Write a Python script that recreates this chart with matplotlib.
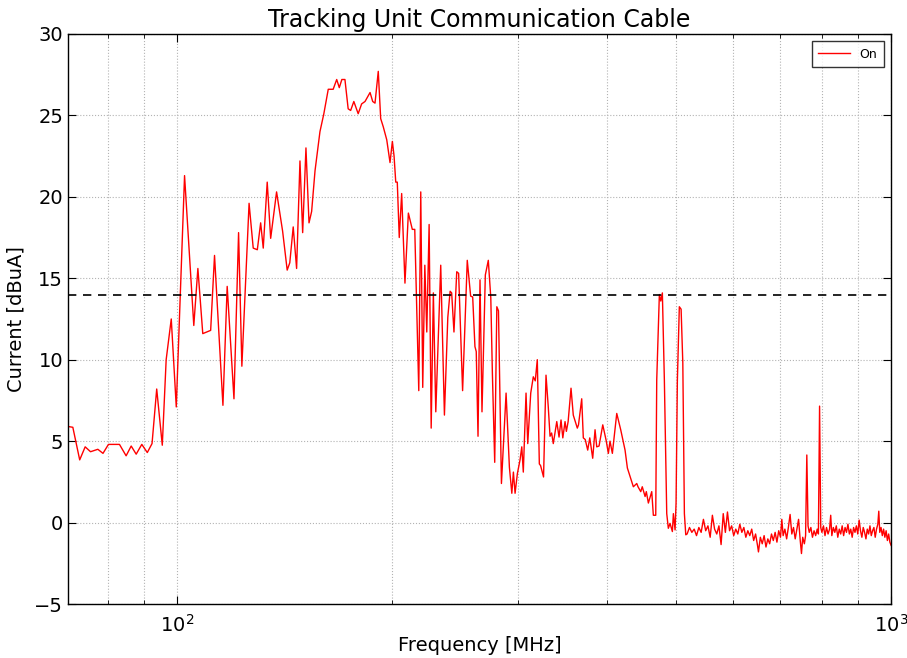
import matplotlib
matplotlib.use("Agg")
import matplotlib.pyplot as plt
from matplotlib.ticker import LogLocator, NullFormatter, MultipleLocator

# ---- data (frequency in MHz, current in dBuA) ----
freq_low = [70.4, 71.5, 73.1, 74.4, 75.7, 77.5, 78.8, 80.2, 83.1, 84.9, 86.3, 87.7,
            89.3, 90.9, 92.3, 93.7, 95.4, 96.6, 98.2, 99.8, 102.5, 105.6, 107.0,
            108.7, 111.5, 112.9, 116.0, 117.6, 120.2, 122.0, 123.3]
current_low = [5.9, 5.85, 3.85, 4.65, 4.35, 4.5, 4.25, 4.8, 4.8, 4.1, 4.7, 4.2,
               4.8, 4.3, 4.85, 8.2, 4.75, 10.0, 12.5, 7.1, 21.3, 12.1, 15.6,
               11.6, 11.8, 16.4, 7.2, 14.5, 7.6, 17.8, 9.6]

freq_mid = [126.2, 127.9, 129.6, 131.0, 132.1, 133.8, 135.3, 137.9, 140.6, 142.7,
            143.9, 145.5, 147.1, 148.7, 150.0, 151.6, 153.1, 154.4, 156.1, 158.6,
            160.6, 162.9, 165.5, 167.4, 168.8, 170.2, 171.9, 173.7, 175.1, 176.9,
            179.4, 181.4, 183.4, 186.4, 188.0, 189.4, 191.4, 192.9, 194.5, 196.7,
            198.8, 200.3, 201.4, 202.5, 203.5, 204.8, 206.4, 208.6, 210.9, 213.6,
            215.3, 218.1, 219.5, 220.9, 222.4, 223.8, 225.5, 227.0, 228.6, 230.4,
            234.1, 236.9, 239.5, 241.3, 242.5, 244.3, 246.5, 248.0, 251.2, 255.0,
            257.8, 259.5, 261.4, 262.5, 264.0, 265.7, 267.4, 270.3, 272.9, 275.1,
            276.5, 278.6, 280.5, 282.0, 284.7, 289.0, 292.1, 294.4, 295.9, 297.5,
            299.7, 302.3, 304.0, 305.5, 308.2, 309.9, 312.9, 315.5, 317.5, 319.6,
            321.7, 323.0, 326.1, 328.7, 331.1, 333.0, 334.7, 336.5, 340.3, 342.8,
            345.0, 347.0, 349.5, 351.0, 353.0, 356.3, 358.9, 363.6, 365.0, 368.8,
            370.7, 373.0, 376.0, 378.5, 382.1, 385.0, 387.1, 390.0, 394.7, 399.0,
            401.9, 404.0, 407.1, 412.9, 418.2, 424.1, 427.3, 432.0, 435.6, 440.4,
            442.2, 446.1, 448.3, 452.4, 454.2, 457.2, 462.2, 464.6, 468.2]
current_mid = [19.6, 16.85, 16.75, 18.4, 16.85, 20.9, 17.45, 20.3, 17.9, 15.5,
               15.95, 18.15, 15.6, 22.2, 17.8, 23.0, 18.4, 19.1, 21.6, 24.0,
               25.1, 26.6, 26.6, 27.2, 26.7, 27.2, 27.2, 25.4, 25.3, 25.85,
               25.1, 25.7, 25.85, 26.4, 25.85, 25.75, 27.7, 24.8, 24.3, 23.5,
               22.1, 23.4, 22.5, 20.9, 20.9, 17.5, 20.2, 14.7, 19.0, 18.0,
               18.0, 8.1, 20.3, 8.3, 15.8, 11.7, 18.3, 5.8, 14.1, 6.8,
               15.8, 6.6, 12.6, 14.2, 14.1, 11.7, 15.4, 15.3, 8.1, 16.1,
               13.9, 13.85, 10.8, 10.5, 5.3, 14.9, 6.8, 15.2, 16.1, 13.8,
               9.2, 3.7, 13.25, 13.0, 2.4, 7.95, 3.4, 1.8, 3.1, 1.8,
               3.0, 3.85, 4.65, 3.1, 7.95, 4.85, 7.95, 8.95, 8.7, 10.0,
               3.6, 3.5, 2.8, 9.05, 7.1, 5.3, 5.5, 4.85, 6.2, 5.25,
               6.3, 5.2, 6.2, 5.6, 6.2, 8.25, 6.6, 5.8, 6.0, 7.6,
               5.2, 5.1, 4.45, 5.2, 3.95, 5.7, 4.65, 4.7, 6.0, 5.05,
               4.25, 5.0, 4.25, 6.7, 5.7, 4.45, 3.35, 2.7, 2.2, 2.4,
               2.2, 1.9, 2.2, 1.6, 1.9, 1.2, 1.9, 0.45, 0.45]

freq_peaks = [469.7, 473.7, 475.9, 478.3, 481.4, 485.1, 487.6, 490.3, 494.0, 495.6,
              498.3, 499.9, 502.0, 505.2, 508.1, 510.9, 513.5, 515.8]
current_peaks = [8.75, 14.0, 13.6, 14.1, 8.75, 0.55, -0.35, -0.05, -0.55, 0.55,
                 -0.45, 1.2, 8.7, 13.25, 13.1, 9.8, 0.55, -0.75]

freq_high = [518, 522, 526, 530, 534, 538, 542, 546, 550, 554, 558, 562, 566, 570,
             574, 578, 582, 586, 590, 594, 598, 602, 606, 610, 614, 618, 622, 626,
             630, 634, 638, 642, 646, 650, 652, 656, 660, 664, 668, 672, 676, 680,
             684, 688, 692, 696, 700, 703, 706, 710, 714, 718, 722, 726, 730, 734,
             738, 742, 746, 749, 752, 756, 759, 762, 765, 768, 772, 776, 780, 784,
             788, 791, 794, 797, 800, 804, 808, 812, 816, 820, 823, 826, 830, 834,
             838, 842, 846, 850, 854, 858, 862, 866, 870, 874, 878, 882, 886, 890,
             894, 898, 902, 906, 910, 914, 918, 922, 926, 930, 934, 938, 942, 946,
             950, 954, 958, 961, 964, 968, 972, 976, 980, 984, 988, 992, 996, 1000]
current_high = [-0.7, -0.3, -0.6, -0.4, -0.8, -0.3, -0.6, 0.2, -0.5, -0.2, -0.9, 0.45,
                -0.4, -0.7, -0.2, -1.35, 0.55, -0.6, 0.65, -0.5, -0.2, -0.8, -0.4,
                -0.7, -0.1, -0.6, -0.3, -0.9, -0.5, -0.8, -0.4, -1.1, -0.7, -1.4,
                -1.8, -0.9, -1.3, -0.8, -1.5, -1.0, -1.3, -0.7, -1.1, -0.6, -1.2,
                -0.5, -0.9, 0.2, -0.8, -0.4, -1.0, -0.3, 0.5, -0.7, -0.3, -1.0,
                -0.4, 0.2, -1.1, -1.9, -0.9, -1.3, -0.8, 4.15, -0.2, -0.6, -0.3,
                -0.9, -0.5, -0.8, -0.4, -0.7, 7.15, -0.3, -0.6, -0.2, -0.8, -0.3,
                -0.7, -0.4, 0.45, -0.8, -0.3, -0.6, -0.2, -0.9, -0.4, -0.7, -0.2,
                -0.8, -0.3, -0.6, -0.1, -0.7, -0.4, -0.9, -0.3, -0.6, -0.2, -0.7,
                0.15, -0.5, -0.9, -0.3, -0.6, -1.0, -0.4, -0.7, -0.2, -0.8, -0.5,
                -0.3, -0.9, -0.4, -0.1, 0.7, -0.6, -0.3, -0.8, -0.4, -0.9, -0.5,
                -1.1, -0.7, -1.2, -1.4]

limit_level = 14.0
series_label = "On"
title = "Tracking Unit Communication Cable"
xlabel = "Frequency [MHz]"
ylabel = "Current [dBuA]"

freq = freq_low + freq_mid + freq_peaks + freq_high
current = current_low + current_mid + current_peaks + current_high

# ---- figure ----
plt.rcParams['font.family'] = ['DejaVu Sans']
fig = plt.figure(figsize=(9.07, 6.58), dpi=100, facecolor='white')
ax = fig.add_axes([0.075, 0.082, 0.9075, 0.8665])

ax.plot(freq, current, color='red', linewidth=1.0, label=series_label)
ax.axhline(limit_level, color='black', linestyle='--', linewidth=1.2, dashes=(5, 4))

ax.set_xscale('log')
ax.set_xlim(70.4, 1000)
ax.set_ylim(-5, 30)
ax.yaxis.set_major_locator(MultipleLocator(5))
ax.xaxis.set_major_locator(LogLocator(base=10))
ax.xaxis.set_minor_locator(LogLocator(base=10, subs=range(2, 10)))
ax.xaxis.set_minor_formatter(NullFormatter())

ax.grid(True, which='major', color='0.7', linestyle=':', linewidth=0.8)
ax.grid(True, which='minor', axis='x', color='0.7', linestyle=':', linewidth=0.8)

ax.tick_params(which='both', direction='in', top=True, right=True, labelsize=14)
ax.tick_params(which='major', length=6, width=0.8)
ax.tick_params(which='minor', length=3, width=0.6)
ax.tick_params(axis='x', pad=7)
for s in ax.spines.values():
    s.set_linewidth(1.0)
    s.set_color('black')

ax.set_title(title, fontsize=17, pad=5)
ax.set_xlabel(xlabel, fontsize=14, labelpad=0)
ax.set_ylabel(ylabel, fontsize=14, labelpad=6)

leg = ax.legend(loc='upper right', fontsize=9, frameon=True, fancybox=False,
                handlelength=2.5, borderpad=0.5, borderaxespad=0.6)
leg.get_frame().set_edgecolor('black')
leg.get_frame().set_linewidth(1.0)

fig.savefig('out.png', dpi=100, facecolor='white')
